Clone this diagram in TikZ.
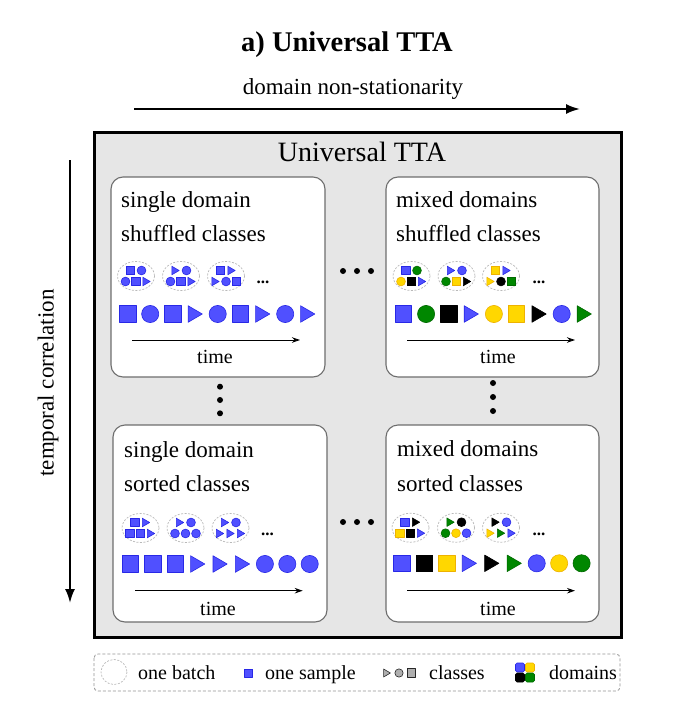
\documentclass[tikz,border=0pt]{standalone}
\usepackage{fontspec}
\setmainfont{Liberation Serif}
\usetikzlibrary{arrows.meta}
\definecolor{fB}{RGB}{80,80,255}
\definecolor{dB}{RGB}{40,40,230}
\definecolor{fG}{RGB}{0,135,0}
\definecolor{dG}{RGB}{0,105,0}
\definecolor{fY}{RGB}{255,215,0}
\definecolor{dY}{RGB}{238,178,0}
\definecolor{fK}{RGB}{0,0,0}
\definecolor{dK}{RGB}{0,0,0}
\definecolor{fL}{RGB}{175,175,175}
\definecolor{dL}{RGB}{40,40,40}
\definecolor{boxgray}{RGB}{230,230,230}
\definecolor{panelgray}{RGB}{110,110,110}
\definecolor{batchgray}{RGB}{185,185,185}
\tikzset{
 sample/.style={line width=0.6pt, line join=round},
 batch/.style={draw=batchgray, dash pattern=on 2pt off 1.5pt, line width=0.7pt},
 panel/.style={draw=panelgray, fill=white, line width=1.1pt, rounded corners=12pt},
 paneltext/.style={anchor=base west, inner sep=0pt, font=\fontsize{23}{27}\selectfont},
 timetext/.style={anchor=base, inner sep=0pt, font=\fontsize{20}{24}\selectfont},
 legtext/.style={anchor=base west, inner sep=0pt, font=\fontsize{20}{24}\selectfont},
 timearrow/.style={-{Stealth[length=8pt,width=5.5pt]}, line width=0.9pt},
 bigarrow/.style={-{Latex[length=14pt,width=10pt]}, line width=2pt},
 moredots/.style={anchor=base, inner sep=0pt, font=\fontsize{17}{20}\selectfont\bfseries},
}
\newcommand\drawS[4]{\filldraw[sample,fill=f#1,draw=d#1] ({(#2)-(#4)/2},{(#3)-(#4)/2}) rectangle ({(#2)+(#4)/2},{(#3)+(#4)/2});}
\newcommand\drawC[4]{\filldraw[sample,fill=f#1,draw=d#1] ({#2},{#3}) circle[radius={(#4)*0.52}];}
\newcommand\drawT[4]{\filldraw[sample,fill=f#1,draw=d#1] ({(#2)-0.43*(#4)},{(#3)-0.5*(#4)}) -- ({(#2)+0.43*(#4)},{#3}) -- ({(#2)-0.43*(#4)},{(#3)+0.5*(#4)}) -- cycle;}
\newcommand\Batch[3]{%
 \draw[batch] (#1,#2) ellipse[x radius=18.5, y radius=14.5];
 \foreach \s/\c [count=\k] in {#3} {%
   \pgfmathsetmacro\ddx{{-5.5,5.5,-10.5,0,10.5}[\k-1]}%
   \pgfmathsetmacro\ddy{{-5.5,-5.5,5.5,5.5,5.5}[\k-1]}%
   \csname draw\s\endcsname{\c}{#1+\ddx}{#2+\ddy}{8.5}%
 }%
}
\newcommand\SampleRow[4]{%
 \foreach \s/\c [count=\k] in {#4} {%
   \csname draw\s\endcsname{\c}{#1+(\k-1)*#2}{#3}{16.5}%
 }%
}
\begin{document}
\begin{tikzpicture}[x=1pt,y=-1pt]
\useasboundingbox (0,0) rectangle (679,712);
% title and axes
\node[anchor=base, inner sep=0pt, font=\fontsize{28.5}{34}\selectfont\bfseries] (title) at (347,51.5) {a) Universal TTA};
\node[anchor=base, inner sep=0pt, font=\fontsize{23}{27}\selectfont] (hlabel) at (353,94) {domain non-stationarity};
\coordinate (h0) at (134,109);
\coordinate (h1) at (580,109);
\draw[bigarrow] (h0) -- (h1);
\coordinate (v0) at (70,160);
\coordinate (v1) at (70,603);
\draw[bigarrow] (v0) -- (v1);
\node[rotate=90, inner sep=0pt, font=\fontsize{23}{27}\selectfont] (vlabel) at (48,383) {temporal correlation};
% outer box
\draw[line width=3pt, fill=boxgray] (94,132) rectangle (621,637);
\node[anchor=base, inner sep=0pt, font=\fontsize{28}{33}\selectfont] (utta) at (362,161.5) {Universal TTA};
% panels
\draw[panel] (111,177) rectangle (325,377);
\draw[panel] (386,177) rectangle (599,377);
\draw[panel] (113,425) rectangle (327,622);
\draw[panel] (386,425) rectangle (599,622);
% panel texts
\node[paneltext] (tl1) at (121,207) {single domain};
\node[paneltext] (tl2) at (121,241) {shuffled classes};
\node[paneltext] (tr1) at (396,207) {mixed domains};
\node[paneltext] (tr2) at (396,241) {shuffled classes};
\node[paneltext] (bl1) at (124,457) {single domain};
\node[paneltext] (bl2) at (124,491) {sorted classes};
\node[paneltext] (br1) at (397,456.5) {mixed domains};
\node[paneltext] (br2) at (397,491) {sorted classes};
% top-left
\Batch{136}{276}{S/B,C/B,C/B,S/B,T/B}
\Batch{181}{276}{T/B,C/B,C/B,S/B,T/B}
\Batch{226}{276}{S/B,T/B,T/B,C/B,S/B}
\node[moredots] (tlm) at (263,283) {...};
\SampleRow{127.7}{22.5}{314}{S/B,C/B,S/B,T/B,C/B,S/B,T/B,C/B,T/B}
\coordinate (tla) at (132,340); \coordinate (tlb) at (300,340);
\draw[timearrow] (tla) -- (tlb);
\node[timetext] (tlt) at (215,363) {time};
% top-right
\Batch{411.5}{276}{S/B,C/G,C/Y,S/K,T/B}
\Batch{456.5}{276}{T/B,C/B,C/G,S/Y,T/K}
\Batch{501}{276}{S/Y,T/B,T/Y,C/K,S/G}
\node[moredots] (trm) at (539,283) {...};
\SampleRow{403.5}{22.6}{314}{S/B,C/G,S/K,T/B,C/Y,S/Y,T/K,C/B,T/G}
\coordinate (tra) at (407,340); \coordinate (trb) at (575,340);
\draw[timearrow] (tra) -- (trb);
\node[timetext] (trt) at (498,363) {time};
% bottom-left
\Batch{140.5}{528}{S/B,T/B,S/B,S/B,T/B}
\Batch{185.5}{528}{T/B,C/B,C/B,C/B,C/B}
\Batch{230.5}{528}{T/B,C/B,T/B,T/B,T/B}
\node[moredots] (blm) at (267.5,535) {...};
\SampleRow{130.5}{22.4}{564}{S/B,S/B,S/B,T/B,T/B,T/B,C/B,C/B,C/B}
\coordinate (bla) at (135,590.7); \coordinate (blb) at (302.7,590.7);
\draw[timearrow] (bla) -- (blb);
\node[timetext] (blt) at (218,615) {time};
% bottom-right
\Batch{410.5}{527.7}{S/B,T/K,S/Y,S/K,T/B}
\Batch{456}{527.7}{T/G,C/K,C/G,C/Y,C/B}
\Batch{501}{527.7}{T/K,C/B,T/Y,T/G,T/B}
\node[moredots] (brm) at (539,535) {...};
\SampleRow{402}{22.45}{563.3}{S/B,S/K,S/Y,T/B,T/K,T/G,C/B,C/Y,C/G}
\coordinate (bra) at (407,590.7); \coordinate (brb) at (575,590.7);
\draw[timearrow] (bra) -- (brb);
\node[timetext] (brt) at (498,615) {time};
% ellipsis dots between panels
\foreach \xx in {343,357,371} {\fill (\xx,271) circle[radius=3]; \fill (\xx,522) circle[radius=3];}
\foreach \yy in {386.7,400,413.3} {\fill (220,\yy) circle[radius=3];}
\foreach \yy in {383,397,411} {\fill (493,\yy) circle[radius=3];}
% legend
\draw[draw=gray!85, dash pattern=on 3pt off 2pt, rounded corners=4pt, line width=0.8pt] (94,654) rectangle (620,691);
\draw[batch] (114,672) ellipse[x radius=13, y radius=12.5];
\node[legtext] (l1) at (138,679) {one batch};
\drawS{B}{248.5}{673}{8}
\node[legtext] (l2) at (265,679) {one sample};
\drawT{L}{387}{673}{8}
\drawC{L}{399}{673}{8}
\drawS{L}{411.5}{673}{8.5}
\node[legtext] (l3) at (429,679) {classes};
\filldraw[sample,fill=fB,draw=dB,rounded corners=1.5pt] (515.5,663) rectangle (524.5,672);
\filldraw[sample,fill=fY,draw=dY,rounded corners=1.5pt] (525.5,663) rectangle (534.5,672);
\filldraw[sample,fill=fK,draw=dK,rounded corners=1.5pt] (515.5,673) rectangle (524.5,682);
\filldraw[sample,fill=fG,draw=dG,rounded corners=1.5pt] (525.5,673) rectangle (534.5,682);
\node[legtext] (l4) at (549,679) {domains};
\end{tikzpicture}
\end{document}
